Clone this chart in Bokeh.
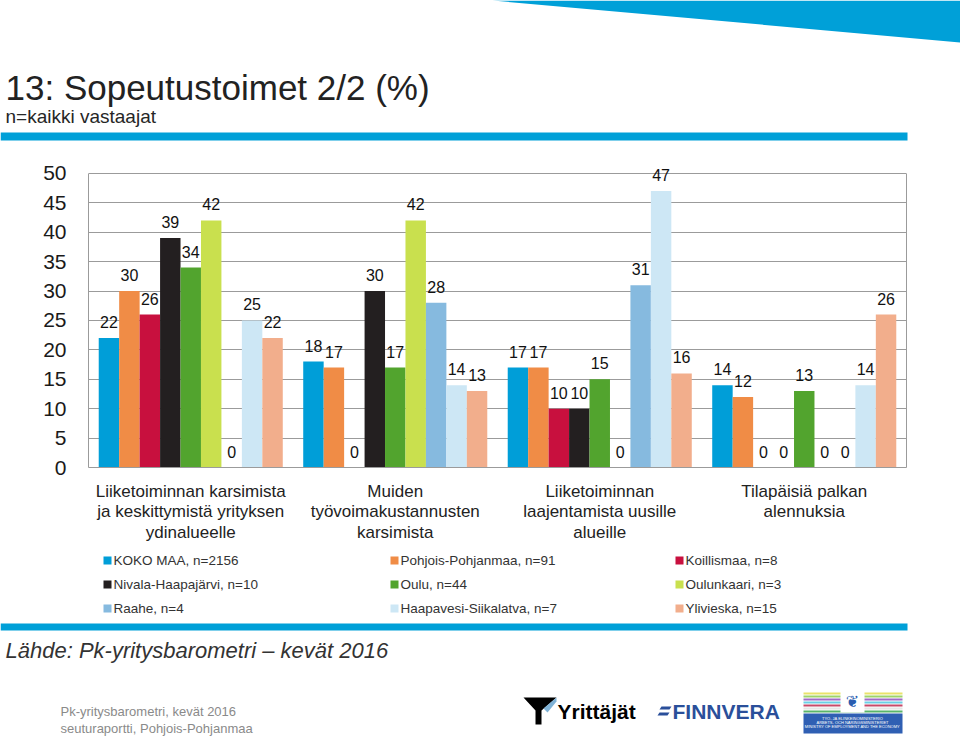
from bokeh.plotting import figure
from bokeh.models import Range1d, FixedTicker, ColumnDataSource, LabelSet, LinearAxis
from bokeh.layouts import column
from bokeh.core.properties import value
from bokeh.embed import file_html
from bokeh.resources import INLINE

# ---------------- data ----------------
categories = [
    "Liiketoiminnan karsimista\nja keskittymistä yrityksen\nydinalueelle",
    "Muiden\ntyövoimakustannusten\nkarsimista",
    "Liiketoiminnan\nlaajentamista uusille\nalueille",
    "Tilapäisiä palkan\nalennuksia",
]
series = [
    "KOKO MAA, n=2156",
    "Pohjois-Pohjanmaa, n=91",
    "Koillismaa, n=8",
    "Nivala-Haapajärvi, n=10",
    "Oulu, n=44",
    "Oulunkaari, n=3",
    "Raahe, n=4",
    "Haapavesi-Siikalatva, n=7",
    "Ylivieska, n=15",
]
koko_maa = [22, 18, 17, 14]
pohjois_pohjanmaa = [30, 17, 17, 12]
koillismaa = [26, 0, 10, 0]
nivala_haapajarvi = [39, 30, 10, 0]
oulu = [34, 17, 15, 13]
oulunkaari = [42, 42, 0, 0]
raahe = [0, 28, 31, 0]
haapavesi_siikalatva = [25, 14, 47, 14]
ylivieska = [22, 13, 16, 26]
values = [koko_maa, pohjois_pohjanmaa, koillismaa, nivala_haapajarvi, oulu,
          oulunkaari, raahe, haapavesi_siikalatva, ylivieska]
colors = ["#009ED8", "#F08C46", "#C8103E", "#231F20", "#52A42E",
          "#C9E04E", "#86BADF", "#CDE7F5", "#F2AE8C"]
y_ticks = [0, 5, 10, 15, 20, 25, 30, 35, 40, 45, 50]
y_max = 50

title_text = "13: Sopeutustoimet 2/2 (%)"
subtitle_text = "n=kaikki vastaajat"
source_text = "Lähde: Pk-yritysbarometri – kevät 2016"
footer_lines = ["Pk-yritysbarometri, kevät 2016", "seuturaportti, Pohjois-Pohjanmaa"]

FONT = "Liberation Sans"
BLUE = "#00A0D8"
GRID = "#9b9b9b"
W = 960


def no_align(f):
    try:
        f.frame_align = False
    except Exception:
        pass


def blank(height, top, bottom):
    f = figure(width=W, height=height, output_backend="svg", toolbar_location=None,
               x_range=Range1d(0, W), y_range=Range1d(bottom, top),
               x_axis_location=None, y_axis_location=None, min_border=0,
               min_border_left=0, min_border_right=0, min_border_top=0, min_border_bottom=0)
    f.outline_line_color = None
    f.xgrid.visible = False
    f.ygrid.visible = False
    f.background_fill_color = "white"
    f.border_fill_color = "white"
    no_align(f)
    return f


def txt(f, x, y, s, size, color="#262626", style="normal", align="left", font=FONT):
    f.text([x], [y], text=[s], text_font=value(font), text_font_size=size,
           text_color=color, text_font_style=style, text_align=align, text_baseline="middle")


# ---------------- header (page y 0..150) ----------------
head = blank(150, 0, 150)
head.patch([492, 960, 960], [0, 0, 42], color=BLUE, line_color=None)
txt(head, 5, 87, title_text, "35px", color="#222222")
txt(head, 5, 116, subtitle_text, "19px")
head.quad(left=[0], right=[907], top=[132], bottom=[140], color=BLUE, line_color=None)

# ---------------- chart (page y 150..545) ----------------
# frame: page x 88..906, y 161..470 ; 50 units = 297 px
p = figure(width=W, height=395, output_backend="svg", toolbar_location=None,
           x_range=Range1d(0, len(categories)), y_range=Range1d(0, 309 / 5.94),
           min_border_left=88, min_border_right=54, min_border_top=11, min_border_bottom=75)
no_align(p)
p.background_fill_color = "white"
p.border_fill_color = "white"
p.outline_line_color = None

xs_all, ys_all, lab_all = [], [], []
for i, (name, vals, col) in enumerate(zip(series, values, colors)):
    xs = [g + 0.1 + 0.1 * i for g in range(len(categories))]
    p.vbar(x=xs, top=vals, width=0.1, bottom=0, color=col, line_color=None)
    xs_all += xs
    ys_all += vals
    lab_all += [str(v) for v in vals]

src = ColumnDataSource(dict(x=xs_all, y=ys_all, t=lab_all))
p.add_layout(LabelSet(x="x", y="y", text="t", source=src, text_align="center",
                      text_baseline="alphabetic", y_offset=10,
                      text_font=value(FONT), text_font_size="16px", text_color="#111111"))

p.ygrid.grid_line_color = GRID
p.ygrid.ticker = FixedTicker(ticks=y_ticks)
p.xgrid.visible = False
p.yaxis.ticker = FixedTicker(ticks=y_ticks)
p.yaxis.bounds = (0, y_max)
p.yaxis.major_label_text_font = FONT
p.yaxis.major_label_text_font_size = "21px"
p.yaxis.major_label_text_color = "#1a1a1a"
p.yaxis.major_label_standoff = 16
p.yaxis.major_tick_line_color = None
p.yaxis.minor_tick_line_color = None
p.yaxis.axis_line_color = GRID

# right border of the plot area, drawn as a label-less axis
right_axis = LinearAxis(ticker=FixedTicker(ticks=[]), bounds=(0, y_max),
                        major_tick_line_color=None, minor_tick_line_color=None,
                        axis_line_color=GRID)
p.add_layout(right_axis, "right")

p.xaxis.ticker = FixedTicker(ticks=[g + 0.5 for g in range(len(categories))])
p.xaxis.major_label_overrides = {g + 0.5: c for g, c in enumerate(categories)}
p.xaxis.major_label_text_font = FONT
p.xaxis.major_label_text_font_size = "17px"
p.xaxis.major_label_text_line_height = 1.1
p.xaxis.major_label_text_color = "#222222"
p.xaxis.major_label_text_align = "center"
p.xaxis.major_label_standoff = 8
p.xaxis.major_tick_line_color = None
p.xaxis.minor_tick_line_color = None
p.xaxis.axis_line_color = GRID

# ---------------- legend + footer (page y 545..738) ----------------
foot = blank(193, 545, 738)
leg_x = [103, 390, 675]
leg_y = [560, 584, 608]
for i, (name, col) in enumerate(zip(series, colors)):
    cx = leg_x[i % 3]
    cy = leg_y[i // 3]
    foot.rect([cx + 4], [cy], width=8, height=8, color=col, line_color=None)
    txt(foot, cx + 10, cy, name, "13.5px", color="#333333")
foot.quad(left=[0], right=[907], top=[623], bottom=[630], color=BLUE, line_color=None)
txt(foot, 5, 650, source_text, "22px", color="#333333", style="italic")
txt(foot, 60, 711, footer_lines[0], "13px", color="#8a8a8a")
txt(foot, 60, 728, footer_lines[1], "13px", color="#8a8a8a")

# Yrittäjät logo
foot.patch([523, 556, 541, 541, 535, 535], [697, 697, 710, 724, 724, 710],
           color="#000000", line_color=None)
foot.patch([543, 556, 556, 547], [708, 697, 701, 712], color="#7fb2d6", line_color=None)
txt(foot, 557, 711, "Yrittäjät", "21px", color="#000000", style="bold")
# Finnvera logo
foot.patch([661, 671, 669, 659], [706, 706, 709, 709], color="#2a4f9a", line_color=None)
foot.patch([659, 669, 667, 657], [712, 712, 715, 715], color="#2a4f9a", line_color=None)
txt(foot, 672, 711, "FINNVERA", "21px", color="#2a4f9a", style="bold")
# Ministry logo
stripe_cols = ["#e9e36a", "#9ed36a", "#a06ac8", "#6ad0e6", "#c84a6a", "#e6e6e6", "#5ab46a"]
for k, sc in enumerate(stripe_cols):
    foot.quad(left=[803], right=[902], top=[692 + 3 * k], bottom=[694 + 3 * k],
              color=sc, line_color=None)
foot.quad(left=[840], right=[864], top=[690], bottom=[712], color="white", line_color=None)
txt(foot, 852, 701, "❦", "16px", color="#2a5db0", align="center", font="DejaVu Sans")
foot.quad(left=[803], right=[902], top=[713], bottom=[733], color="#2f5fb3", line_color=None)
for k, s in enumerate(["TYÖ- JA ELINKEINOMINISTERIÖ", "ARBETS- OCH NÄRINGSMINISTERIET",
                       "MINISTRY OF EMPLOYMENT AND THE ECONOMY"]):
    txt(foot, 852, 718 + 4 * k, s, "4px", color="#ffffff", align="center")

layout = column(head, p, foot, spacing=0)
open("out.html", "w").write(file_html(layout, INLINE))
